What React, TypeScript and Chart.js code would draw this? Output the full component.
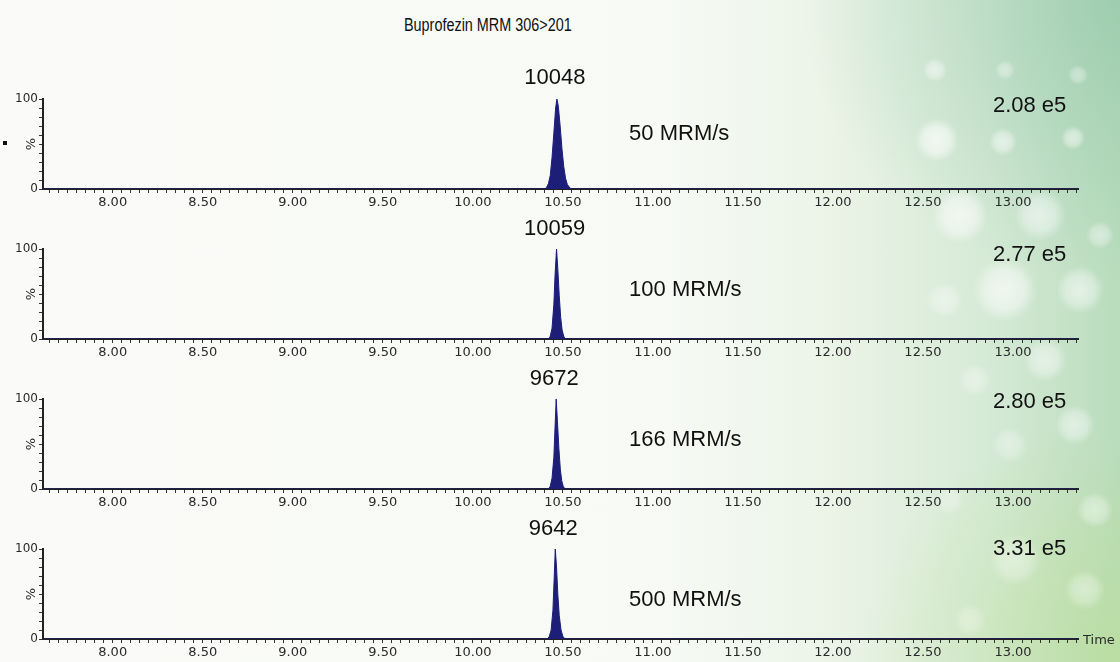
import { useEffect, useRef } from 'react';
import { Chart, registerables } from 'chart.js';

Chart.register(...registerables);

// ---------- data ----------
const TITLE = 'Buprofezin MRM 306>201';
const X_MIN = 7.613;
const X_MAX = 13.361;
const Y_TICK_LABELS = [0, 100];

const scanRates = ['50 MRM/s', '100 MRM/s', '166 MRM/s', '500 MRM/s'];
const peakAreas = ['10048', '10059', '9672', '9642'];
const intensities = ['2.08 e5', '2.77 e5', '2.80 e5', '3.31 e5'];
const peakTimes = [10.467, 10.465, 10.463, 10.458];

const times1 = [7.613, 10.40, 10.41, 10.42, 10.43, 10.44, 10.45, 10.46, 10.467, 10.475, 10.485, 10.495, 10.505, 10.515, 10.525, 10.54, 10.55, 13.361];
const pct1 = [0, 0, 2, 6, 15, 35, 62, 90, 100, 92, 70, 45, 25, 12, 5, 1, 0, 0];

const times2 = [7.613, 10.42, 10.43, 10.44, 10.45, 10.457, 10.465, 10.472, 10.48, 10.488, 10.496, 10.505, 10.515, 13.361];
const pct2 = [0, 0, 3, 12, 38, 72, 100, 78, 48, 24, 10, 3, 0, 0];

const times3 = [7.613, 10.42, 10.43, 10.44, 10.45, 10.457, 10.463, 10.47, 10.478, 10.486, 10.494, 10.502, 10.512, 13.361];
const pct3 = [0, 0, 3, 12, 35, 70, 100, 75, 45, 22, 9, 3, 0, 0];

const times4 = [7.613, 10.415, 10.425, 10.435, 10.445, 10.452, 10.458, 10.465, 10.472, 10.48, 10.49, 10.5, 10.512, 13.361];
const pct4 = [0, 0, 3, 10, 32, 68, 100, 80, 50, 26, 10, 3, 0, 0];

const seriesTimes = [times1, times2, times3, times4];
const seriesPct = [pct1, pct2, pct3, pct4];

// ---------- layout (pixels / positions, not data) ----------
const W = 1120;
const CANVAS_H = 172;
const PANEL_STEP = 150;
const CANVAS_TOP0 = 40;
const PAD_TOP = 59;
const X_AXIS_H = 23;
const Y_AXIS_W = 43;
const PAD_RIGHT = 42;
const PEAK_LIFT = [21, 20, 20, 20];
const RATE_T = 10.868;
const RATE_Y = [61, 54, 54, 43];
const INT_T = 13.296;
const INT_Y = [92, 93, 97, 100];

const FILL = '#1c1e78';
const AXIS_COL = '#222';
const LABEL_FONT = '"DejaVu Sans", Verdana, sans-serif';
const TEXT_FONT = '"Liberation Sans", Arial, sans-serif';

function isLabelled(v: number) {
  return v >= 7.999 && v <= 13.001 && Math.abs(v * 2 - Math.round(v * 2)) < 1e-6;
}

function Panel({ index }: { index: number }) {
  const ref = useRef<HTMLCanvasElement | null>(null);

  useEffect(() => {
    if (!ref.current) return;
    const last = index === 3;
    const textPlugin = {
      id: 'texts' + index,
      afterDraw(chart: any) {
        const { ctx, chartArea, scales } = chart;
        const xs = scales.x;
        const ys = scales.y;
        ctx.save();
        ctx.fillStyle = '#111';
        ctx.font = '22px ' + TEXT_FONT;
        ctx.textBaseline = 'middle';
        ctx.textAlign = 'center';
        ctx.fillText(peakAreas[index], xs.getPixelForValue(peakTimes[index]) - 2, chartArea.top - PEAK_LIFT[index]);
        ctx.textAlign = 'left';
        ctx.fillText(scanRates[index], xs.getPixelForValue(RATE_T), ys.getPixelForValue(RATE_Y[index]));
        ctx.textAlign = 'right';
        ctx.fillText(intensities[index], xs.getPixelForValue(INT_T), ys.getPixelForValue(INT_Y[index]));
        // percent sign on the y axis
        ctx.fillStyle = '#2a2a2a';
        ctx.font = '13px ' + LABEL_FONT;
        ctx.translate(chartArea.left - 11, ys.getPixelForValue(50));
        ctx.rotate(-Math.PI / 2);
        ctx.textAlign = 'center';
        ctx.fillText('%', 0, 0);
        ctx.restore();
        if (last) {
          ctx.save();
          ctx.fillStyle = '#2a2a2a';
          ctx.font = '13px ' + LABEL_FONT;
          ctx.textAlign = 'left';
          ctx.textBaseline = 'middle';
          ctx.fillText('Time', chartArea.right + 5, chartArea.bottom + 2);
          ctx.restore();
        }
      },
    };

    const chart = new Chart(ref.current, {
      type: 'line',
      data: {
        datasets: [
          {
            data: seriesTimes[index].map((t, i) => ({ x: t, y: seriesPct[index][i] })),
            fill: 'origin',
            backgroundColor: FILL,
            borderColor: FILL,
            borderWidth: 1,
            pointRadius: 0,
            tension: 0,
          },
        ],
      },
      options: {
        responsive: false,
        animation: false,
        events: [],
        layout: { padding: { top: PAD_TOP, right: PAD_RIGHT, left: 0, bottom: 0 } },
        plugins: { legend: { display: false }, tooltip: { enabled: false }, title: { display: false } },
        scales: {
          x: {
            type: 'linear',
            min: X_MIN,
            max: X_MAX,
            afterBuildTicks: (s: any) => {
              const ticks = [];
              for (let k = 153; k <= 267; k++) ticks.push({ value: k / 20 });
              s.ticks = ticks;
            },
            afterFit: (s: any) => {
              s.height = X_AXIS_H;
            },
            ticks: {
              autoSkip: false,
              maxRotation: 0,
              minRotation: 0,
              padding: 2,
              color: '#2a2a2a',
              font: { family: LABEL_FONT, size: 13 },
              callback: (v: any) => (isLabelled(Number(v)) ? Number(v).toFixed(2) : ''),
            },
            grid: { drawOnChartArea: false, drawTicks: true, tickLength: 4, tickColor: '#333', tickWidth: 1 },
            border: { color: AXIS_COL, width: 2 },
          },
          y: {
            type: 'linear',
            min: 0,
            max: 100,
            afterBuildTicks: (s: any) => {
              const ticks = [];
              for (let v = 0; v <= 100; v += 10) ticks.push({ value: v });
              s.ticks = ticks;
            },
            afterFit: (s: any) => {
              s.width = Y_AXIS_W;
            },
            ticks: {
              autoSkip: false,
              padding: 1,
              color: '#2a2a2a',
              font: { family: LABEL_FONT, size: 12 },
              callback: (v: any) => (Y_TICK_LABELS.includes(Number(v)) ? String(v) : ''),
            },
            grid: { drawOnChartArea: false, drawTicks: true, tickLength: 4, tickColor: '#333', tickWidth: 1 },
            border: { color: AXIS_COL, width: 2 },
          },
        },
      },
      plugins: [textPlugin],
    } as any);
    return () => chart.destroy();
  }, [index]);

  return (
    <canvas
      ref={ref}
      width={W}
      height={CANVAS_H}
      style={{ position: 'absolute', left: 0, top: CANVAS_TOP0 + PANEL_STEP * index, width: W, height: CANVAS_H }}
    />
  );
}

const glow = (x: number, y: number, r: number, a: number) =>
  `radial-gradient(circle at ${x}px ${y}px, rgba(255,255,255,${a}) 0px, rgba(255,255,255,${a * 0.7}) ${r * 0.6}px, rgba(255,255,255,0) ${r}px)`;

const BACKGROUND = [
  glow(935, 70, 12, 0.5),
  glow(1005, 70, 10, 0.4),
  glow(1078, 75, 10, 0.4),
  glow(937, 140, 22, 0.7),
  glow(1003, 142, 14, 0.55),
  glow(1073, 138, 12, 0.55),
  glow(960, 215, 28, 0.65),
  glow(1040, 215, 26, 0.55),
  glow(1100, 235, 14, 0.45),
  glow(1005, 290, 32, 0.65),
  glow(1080, 290, 24, 0.55),
  glow(945, 300, 18, 0.4),
  glow(1045, 360, 22, 0.5),
  glow(975, 380, 16, 0.35),
  glow(1075, 425, 20, 0.5),
  glow(1010, 445, 18, 0.35),
  glow(950, 500, 14, 0.3),
  glow(1095, 510, 18, 0.45),
  glow(1015, 560, 26, 0.4),
  glow(1085, 590, 20, 0.4),
  glow(970, 620, 16, 0.3),
  'radial-gradient(ellipse 320px 280px at 1120px 0px, rgba(130,190,160,0.5), rgba(130,190,160,0))',
  'radial-gradient(ellipse 260px 240px at 1120px 662px, rgba(185,222,135,0.5), rgba(185,222,135,0))',
  'linear-gradient(to right, #fafbf8 0%, #f8faf6 58%, #ebf4e7 74%, #d6ead6 88%, #b9dcbd 100%)',
].join(', ');

export default function App() {
  return (
    <div
      style={{
        position: 'absolute',
        left: 0,
        top: 0,
        width: W,
        height: 662,
        overflow: 'hidden',
        background: BACKGROUND,
      }}
    >
      <div
        style={{
          position: 'absolute',
          left: 384,
          top: 15,
          width: 200,
          textAlign: 'center',
          fontFamily: TEXT_FONT,
          fontSize: 18,
          color: '#111',
          transform: 'scaleX(0.8)',
          whiteSpace: 'nowrap',
        }}
      >
        {TITLE}
      </div>
      <div style={{ position: 'absolute', left: 3, top: 141, width: 4, height: 4, background: '#111' }} />
      {[0, 1, 2, 3].map((i) => (
        <Panel key={i} index={i} />
      ))}
    </div>
  );
}
